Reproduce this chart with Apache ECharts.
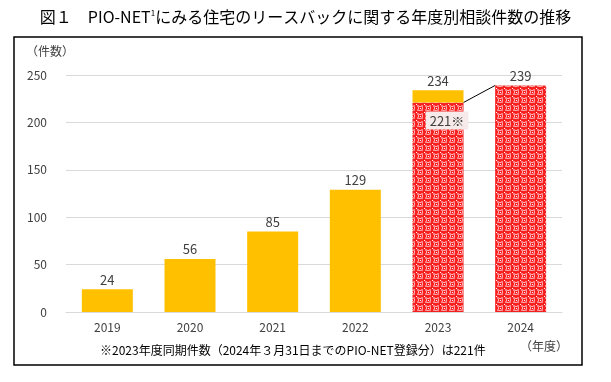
<!DOCTYPE html>
<html><head><meta charset="utf-8">
<script src="https://cdn.jsdelivr.net/npm/echarts@6/dist/echarts.min.js"></script>
<style>html,body{margin:0;padding:0;background:#fff}#c{width:611px;height:382px}</style>
</head><body><div id="c"></div>
<script>
const categories = ['2019','2020','2021','2022','2023','2024'];
const counts = [24, 56, 85, 129, 234, 239];
const samePeriod2023 = 221;
const yTicks = [0, 50, 100, 150, 200, 250];
const patternYears = ['2023','2024'];

const FONT = '"Noto Sans CJK JP", "Noto Sans", sans-serif';
const YELLOW = '#FFC000';
const TXT = '#404040';

// lattice pattern for the red bars
function makePattern(){
  const c = document.createElement('canvas'); c.width = 8; c.height = 8;
  const g = c.getContext('2d');
  g.fillStyle = '#f52020'; g.fillRect(0,0,8,8);
  g.fillStyle = '#ff8080';
  g.fillRect(1,1,2,2); g.fillRect(5,1,2,2); g.fillRect(1,5,2,2); g.fillRect(5,5,2,2);
  g.fillStyle = '#ffb0b0';
  g.fillRect(2,3,1,2); g.fillRect(6,3,1,2); g.fillRect(3,2,2,1); g.fillRect(3,6,2,1);
  g.fillStyle = '#ffffff';
  g.fillRect(0,0,1,1); g.fillRect(4,4,1,1);
  return {image: c, repeat: 'repeat'};
}
const pattern = makePattern();

const idx2023 = categories.indexOf('2023');
const baseData = counts.map((v,i) => {
  const val = i === idx2023 ? samePeriod2023 : v;
  const isPat = patternYears.includes(categories[i]);
  const d = {value: val, itemStyle: {color: isPat ? pattern : YELLOW}};
  if (i === idx2023) {
    d.label = {show: true, position: 'insideTop', offset: [9, 6], formatter: '{a|' + samePeriod2023 + '※}',
      rich: {a: {color: TXT, fontSize: 13, fontFamily: FONT, backgroundColor: '#f6eaea', padding: [3, 4, 2, 4]}}};
  }
  return d;
});
const extraData = counts.map((v,i) => i === idx2023 ? {value: v - samePeriod2023, itemStyle: {color: YELLOW}} : null);

const chart = echarts.init(document.getElementById('c'));
const option = {
  animation: false,
  backgroundColor: '#fff',
  grid: {left: 66, right: 49, top: 75, bottom: 70},
  xAxis: {
    type: 'category', data: categories,
    axisLine: {lineStyle: {color: '#d9d9d9'}}, axisTick: {show: false},
    axisLabel: {color: TXT, fontSize: 12, fontFamily: FONT, margin: 9}
  },
  yAxis: {
    type: 'value', min: yTicks[0], max: yTicks[yTicks.length-1], interval: yTicks[1]-yTicks[0],
    axisLine: {show: false}, axisTick: {show: false},
    splitLine: {lineStyle: {color: '#d9d9d9'}},
    axisLabel: {color: TXT, fontSize: 12, fontFamily: FONT, margin: 19}
  },
  series: [
    {type: 'bar', stack: 's', barWidth: 51, data: baseData,
     label: {show: true, position: 'top', color: TXT, fontSize: 13, fontFamily: FONT, distance: 3,
       formatter: p => p.dataIndex === idx2023 ? '' : p.value}},
    {type: 'bar', stack: 's', barWidth: 51, data: extraData,
     label: {show: true, position: 'top', color: TXT, fontSize: 13, fontFamily: FONT, distance: 3,
       formatter: p => counts[p.dataIndex]}}
  ],
  graphic: [
    {type: 'rect', shape: {x: 14, y: 37, width: 568, height: 328}, style: {fill: 'none', stroke: '#000', lineWidth: 1.5}, silent: true},
    {type: 'text', left: 'center', top: 9, style: {text: '{t|図１　PIO-NET}{s|1}{t|にみる住宅のリースバックに関する年度別相談件数の推移}',
      rich: {t: {fontSize: 16, fontFamily: FONT, fill: '#000', fontWeight: 'normal'}, s: {fontSize: 8, fontFamily: FONT, fill: '#000', verticalAlign: 'top', padding: [0,0,8,0]}}}},
    {type: 'text', left: 26, top: 45, style: {text: '（件数）', fontSize: 12, fontFamily: FONT, fill: TXT}},
    {type: 'text', left: 520, top: 340, style: {text: '（年度）', fontSize: 12, fontFamily: FONT, fill: TXT}},
    {type: 'text', left: 100, top: 344, style: {text: '※2023年度同期件数（2024年３月31日までのPIO-NET登録分）は221件', fontSize: 12, fontFamily: FONT, fill: '#000'}}
  ]
};
chart.setOption(option);

// connector line from 2023 same-period top to 2024 top
const p1 = chart.convertToPixel({seriesIndex: 0}, ['2023', samePeriod2023]);
const p2 = chart.convertToPixel({seriesIndex: 0}, ['2024', counts[categories.indexOf('2024')]]);
const half = 51 / 2;
option.graphic.push({type: 'line', shape: {x1: p1[0] + half, y1: p1[1], x2: p2[0] - half, y2: p2[1]}, style: {stroke: '#000', lineWidth: 1}, silent: true});
chart.setOption({graphic: option.graphic});
</script></body></html>
